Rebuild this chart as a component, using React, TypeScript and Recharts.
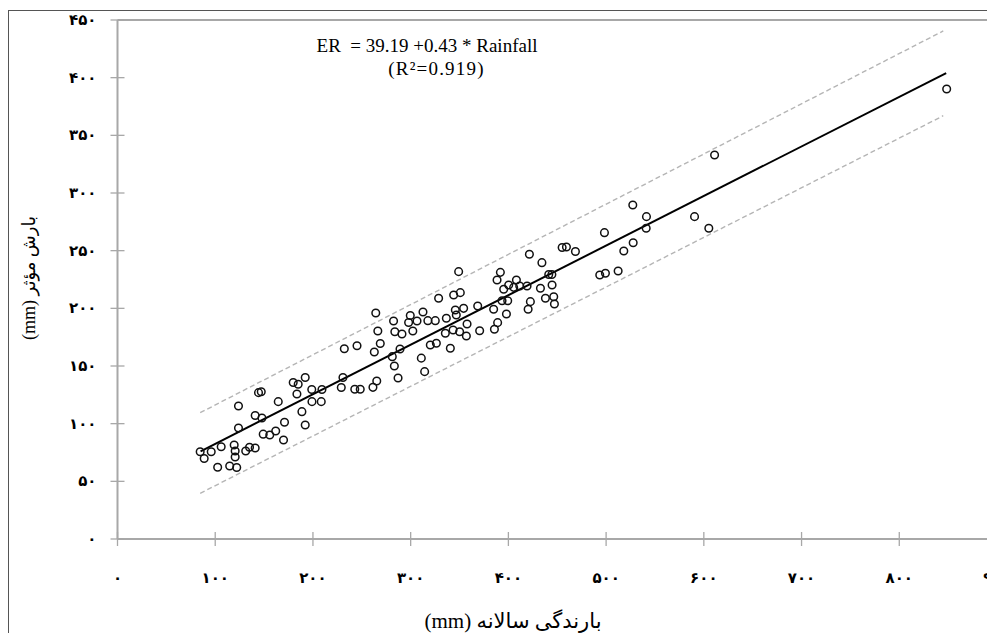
import React from 'react';
import { ScatterChart, Scatter, XAxis, YAxis, ReferenceLine } from 'recharts';

// Annual rainfall (mm) of each station
const rainfall = [
  84.6, 88.7, 95.9, 106.1, 102.5, 114.8, 122.0, 120.4, 119.4, 120.4,
  131.2, 135.1, 140.9, 123.8, 123.8, 140.9, 147.8, 144.3, 147.1, 149.1,
  155.8, 161.9, 169.9, 164.5, 170.9, 179.8, 184.9, 192.1, 183.6, 188.7,
  192.1, 198.8, 199.0, 208.5, 209.2, 230.7, 229.0, 242.8, 248.4, 261.4,
  265.3, 232.1, 245.1, 262.8, 268.9, 266.4, 264.3, 282.5, 283.8, 291.1,
  289.1, 281.2, 283.3, 287.1, 299.6, 297.9, 306.5, 302.2, 310.9, 314.3,
  312.6, 317.6, 325.2, 328.6, 336.5, 335.5, 320.1, 326.3, 340.6, 343.4,
  345.7, 346.7, 344.0, 350.8, 354.2, 350.1, 357.7, 357.0, 349.1, 368.6,
  370.6, 384.9, 385.7, 389.0, 398.0, 393.5, 399.3, 395.2, 400.3, 388.4,
  391.8, 408.2, 405.4, 411.6, 419.1, 422.5, 420.2, 421.5, 432.8, 434.3,
  437.9, 444.7, 446.4, 447.1, 441.3, 444.5, 455.0, 459.4, 468.6, 493.5,
  499.3, 512.3, 518.1, 527.7, 498.3, 527.3, 541.3, 541.0, 590.5, 605.1,
  611.0, 848.5,
];

// Effective rainfall (mm) of each station
const effectiveRain = [
  75.7, 69.8, 75.7, 80.0, 62.2, 63.3, 62.0, 71.1, 81.5, 76.3,
  76.3, 79.5, 78.9, 115.3, 96.2, 107.1, 104.9, 126.9, 127.7, 90.9,
  90.2, 93.6, 85.8, 119.1, 101.2, 135.7, 134.2, 140.0, 125.7, 110.4,
  98.8, 129.6, 119.1, 119.1, 129.6, 140.0, 131.4, 129.8, 129.8, 131.5,
  137.0, 165.0, 167.6, 162.1, 169.5, 180.4, 196.0, 189.0, 179.7, 177.8,
  164.7, 158.1, 150.0, 139.6, 193.8, 187.7, 189.0, 180.4, 156.8, 145.1,
  196.8, 189.3, 189.3, 208.7, 191.4, 178.4, 168.2, 169.7, 165.4, 181.2,
  198.6, 194.2, 211.6, 213.6, 200.0, 179.7, 186.4, 176.0, 231.8, 202.0,
  180.6, 199.2, 181.8, 187.6, 195.1, 206.6, 206.6, 216.5, 220.2, 224.6,
  231.2, 224.6, 218.2, 219.4, 219.4, 205.8, 199.2, 246.9, 217.4, 239.6,
  208.7, 220.2, 210.1, 203.8, 229.3, 229.3, 252.8, 253.2, 249.3, 228.9,
  230.4, 232.4, 249.7, 256.9, 265.6, 289.6, 279.5, 269.4, 279.5, 269.4,
  333.0, 390.2,
];

// Fitted line and its band (end points)
const fitRainfall = [85, 848];
const fitEffective = [76, 404];
const upperRainfall = [84.6, 845];
const upperEffective = [109.5, 440.5];
const lowerRainfall = [84.6, 845];
const lowerEffective = [39.6, 367];

const xTicks = [0, 100, 200, 300, 400, 500, 600, 700, 800, 900];
const xTickLabels = ['۰', '۱۰۰', '۲۰۰', '۳۰۰', '۴۰۰', '۵۰۰', '۶۰۰', '۷۰۰', '۸۰۰', '۹۰۰'];
const yTicks = [0, 50, 100, 150, 200, 250, 300, 350, 400, 450];
const yTickLabels = ['۰', '۵۰', '۱۰۰', '۱۵۰', '۲۰۰', '۲۵۰', '۳۰۰', '۳۵۰', '۴۰۰', '۴۵۰'];

const equationText = 'ER  = 39.19 +0.43 * Rainfall';
const r2Text = '(R²=0.919)';
const xTitle = '(mm) بارندگی سالانه';
const yTitle = '(mm) بارش مؤثر';

const toPoints = (xs: number[], ys: number[]) => xs.map((x, i) => ({ x, y: ys[i] }));
const points = toPoints(rainfall, effectiveRain);
const fitLine = toPoints(fitRainfall, fitEffective);
const upperLine = toPoints(upperRainfall, upperEffective);
const lowerLine = toPoints(lowerRainfall, lowerEffective);

const AXIS = '#a8a8a8';
const W = 990;
const H = 633;

const XTick = (props: any) => {
  const { x, y, payload } = props;
  const i = xTicks.indexOf(payload.value);
  return (
    <g>
      <line x1={x} x2={x} y1={y - 7} y2={y + 7} stroke={AXIS} strokeWidth={1.3} />
      <text x={x} y={y + 39} textAnchor="middle" dominantBaseline="central"
        fontFamily="DejaVu Sans" fontWeight="bold" fontSize={15} fill="#000">
        {xTickLabels[i]}
      </text>
    </g>
  );
};

const YTick = (props: any) => {
  const { x, y, payload } = props;
  const i = yTicks.indexOf(payload.value);
  return (
    <g>
      <line x1={x - 7} x2={x + 7} y1={y} y2={y} stroke={AXIS} strokeWidth={1.3} />
      <text x={x - 21} y={y} textAnchor="end" dominantBaseline="central"
        fontFamily="DejaVu Sans" fontWeight="bold" fontSize={15} fill="#000">
        {yTickLabels[i]}
      </text>
    </g>
  );
};

const Ring = (props: any) => (
  <circle cx={props.cx} cy={props.cy} r={3.8} fill="none" stroke="#111" strokeWidth={1.5} />
);
const NoMark = () => <g />;

export default function App() {
  return (
    <div style={{ position: 'relative', width: 987, height: H, overflow: 'hidden', marginBottom: -8, marginRight: -8, background: '#fff' }}>
      <ScatterChart width={W} height={H} margin={{ top: 12, right: 1, bottom: 42, left: 49.5 }}>
        <XAxis type="number" dataKey="x" domain={[0, 900]} ticks={xTicks} interval={0}
          tickSize={0} tickMargin={0} tickLine={false} tick={XTick}
          axisLine={{ stroke: AXIS, strokeWidth: 2 }} height={60} allowDataOverflow />
        <YAxis type="number" dataKey="y" domain={[0, 450]} ticks={yTicks} interval={0}
          tickSize={0} tickMargin={0} tickLine={false} tick={YTick}
          axisLine={{ stroke: AXIS, strokeWidth: 2 }} width={60} allowDataOverflow />
        <ReferenceLine y={450} stroke={AXIS} strokeWidth={2} />
        <Scatter data={upperLine} line={{ stroke: '#b5b5b5', strokeWidth: 1.4, strokeDasharray: '5 3' }}
          shape={NoMark} isAnimationActive={false} />
        <Scatter data={lowerLine} line={{ stroke: '#b5b5b5', strokeWidth: 1.4, strokeDasharray: '5 3' }}
          shape={NoMark} isAnimationActive={false} />
        <Scatter data={fitLine} line={{ stroke: '#000', strokeWidth: 2 }}
          shape={NoMark} isAnimationActive={false} />
        <Scatter data={points} shape={Ring} isAnimationActive={false} />
      </ScatterChart>
      <svg width={987} height={H} style={{ position: 'absolute', left: 0, top: 0, pointerEvents: 'none' }}>
        <line x1={0.5} x2={0.5} y1={2.5} y2={H} stroke="#555" strokeWidth={1} />
        <line x1={0} x2={987} y1={2.5} y2={2.5} stroke="#555" strokeWidth={1} />
        <line x1={982} x2={982} y1={12} y2={531} stroke={AXIS} strokeWidth={1.5} />
        <text x={419} y={37} textAnchor="middle" dominantBaseline="central"
          fontFamily="Liberation Serif" fontSize={19} fill="#000" style={{ whiteSpace: 'pre' }}>
          {equationText}
        </text>
        <text x={428.5} y={60} textAnchor="middle" dominantBaseline="central"
          fontFamily="Liberation Serif" fontSize={19} letterSpacing={1.2} fill="#000">
          {r2Text}
        </text>
        <text x={505} y={613} textAnchor="middle" dominantBaseline="central"
          fontFamily="Liberation Serif, DejaVu Sans" fontSize={21} fill="#000">
          {xTitle}
        </text>
        <text x={0} y={0} transform="translate(21 270) rotate(-90)" textAnchor="middle" dominantBaseline="central"
          fontFamily="Liberation Serif, DejaVu Sans" fontSize={18} fill="#000">
          {yTitle}
        </text>
      </svg>
    </div>
  );
}
